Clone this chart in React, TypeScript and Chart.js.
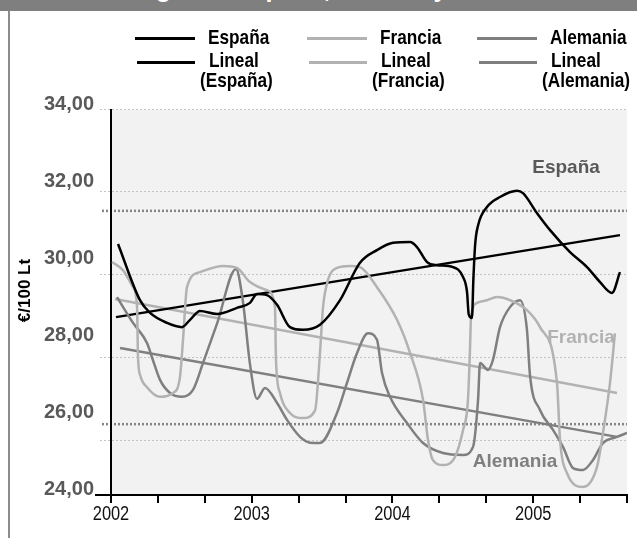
import React, { useEffect, useRef } from "react";
import { Chart, registerables } from "chart.js";

Chart.register(...registerables);

// ---------- text ----------
const TITLE = "Precio gasoil España, Francia y Alemania";
const Y_TITLE = "€/100 Lt";
const SERIES_NAMES = ["España", "Francia", "Alemania"];
const TREND_PREFIX = "Lineal";

// ---------- axes (x in months since Jan 2002) ----------
const X_MIN = 0;
const X_MAX = 44;
const X_TICK_MONTHS = [0, 4, 8, 12, 16, 20, 24, 28, 32, 36, 40, 44];
const YEAR_MONTHS = [0, 12, 24, 36];
const YEAR_LABELS = ["2002", "2003", "2004", "2005"];
const Y_TICKS = [24, 26, 28, 30, 32, 34];
const GUIDE_VALUES = [34.03, 31.9, 29.74, 27.58, 25.43];
const REF_VALUES = [31.38, 25.84];

// ---------- series: [month, €/100 Lt] ----------
const espana: [number, number][] = [
  [0.6, 30.52], [2.47, 29.06], [3.33, 28.73], [4.78, 28.47], [6.05, 28.36], [6.74, 28.55],
  [7.59, 28.78], [9.04, 28.7], [10.74, 28.86], [11.85, 28.99], [12.45, 29.22], [13.3, 29.19],
  [14.16, 28.94], [15.26, 28.36], [16.37, 28.29], [17.82, 28.42], [19.53, 29.06], [21.23, 30.03],
  [22.68, 30.36], [24.05, 30.55], [25.5, 30.57], [26.09, 30.44], [26.95, 30.05], [27.8, 29.97],
  [29.16, 29.92], [30.02, 29.66], [30.36, 29.27], [30.5, 28.7], [30.78, 28.6], [30.9, 29.6],
  [31.05, 30.5], [31.3, 31.0], [32.06, 31.48], [33.17, 31.74], [34.62, 31.9], [35.13, 31.84],
  [36.33, 31.32], [37.44, 30.88], [39.14, 30.31], [40.59, 29.92], [41.7, 29.53], [42.72, 29.25],
  [43.4, 29.79],
];
const francia: [number, number][] = [
  [0.09, 30.05], [1.02, 29.84], [1.88, 29.4], [2.22, 28.9], [2.3, 27.6], [2.5, 27.1],
  [3.07, 26.8], [4.18, 26.55], [5.29, 26.65], [5.88, 27.06], [6.14, 28.03], [6.48, 29.4],
  [7.59, 29.79], [9.55, 29.95], [10.74, 29.9], [11.85, 29.53], [13.3, 29.32], [13.98, 28.88],
  [14.07, 27.5], [14.41, 26.65], [15.26, 26.13], [16.37, 26.0], [17.4, 26.2], [17.82, 27.69],
  [18.08, 28.88], [18.5, 29.58], [19.27, 29.9], [20.38, 29.95], [21.23, 29.92], [22.68, 29.4],
  [24.39, 28.55], [25.5, 27.69], [26.61, 26.47], [27.03, 25.43], [27.46, 24.9], [28.31, 24.78],
  [29.16, 24.9], [30.02, 25.69], [30.44, 26.47], [30.61, 27.77], [30.7, 28.62], [31.21, 28.99],
  [32.06, 29.06], [32.92, 29.14], [34.02, 29.06], [35.47, 28.8], [36.58, 28.36], [38.03, 26.91],
  [38.29, 25.43], [38.88, 24.57], [40.25, 24.21], [41.44, 24.73], [41.95, 25.61], [42.55, 26.91],
  [42.97, 28.2],
];
const alemania: [number, number][] = [
  [0.51, 29.14], [1.88, 28.47], [3.07, 27.95], [3.58, 27.5], [4.18, 26.99], [5.03, 26.65],
  [6.05, 26.55], [6.99, 26.73], [7.85, 27.43], [9.04, 28.45], [10.66, 29.87], [11.26, 29.0],
  [11.85, 27.4], [12.45, 26.5], [13.13, 26.78], [14.16, 26.39], [15.01, 25.95], [16.12, 25.51],
  [16.97, 25.36], [17.82, 25.35], [19.27, 26.13], [20.12, 26.91], [20.98, 27.69], [21.92, 28.2],
  [22.68, 28.03], [23.11, 27.17], [23.79, 26.55], [25.24, 25.87], [26.61, 25.35], [28.31, 25.09],
  [30.02, 25.04], [30.87, 25.25], [31.3, 26.47], [31.47, 27.43], [32.15, 27.25], [32.57, 27.51],
  [33.17, 28.36], [34.02, 28.88], [34.88, 29.06], [35.47, 28.29], [35.73, 27.1], [36.58, 26.21],
  [37.69, 25.69], [38.54, 25.25], [39.4, 24.7], [40.25, 24.65], [41.1, 24.91], [41.95, 25.35],
  [43.15, 25.51], [44.0, 25.61],
];

// linear trend lines (start / end)
const espanaTrend: [number, number][] = [[0.43, 28.62], [43.4, 30.75]];
const franciaTrend: [number, number][] = [[0.34, 29.09], [43.15, 26.65]];
const alemaniaTrend: [number, number][] = [[0.77, 27.82], [43.15, 25.51]];

// in-chart name labels: [month, value]
const NAME_LABEL_POS: [number, number][] = [[38.8, 32.49], [40.08, 28.08], [34.45, 24.86]];

// ---------- styles ----------
const COLORS = ["#000000", "#b2b2b2", "#7f7f7f"];
const NAME_LABEL_COLORS = ["#595959", "#b2b2b2", "#7f7f7f"];
const SANS = "'Liberation Sans', Arial, sans-serif";
const NARROW_SCALE = 0.82;
const LEGEND_COLS = [135, 307, 477];

const toXY = (arr: [number, number][]) => arr.map(([x, y]) => ({ x, y }));

const decorPlugin = {
  id: "decor",
  beforeDraw(chart: any) {
    const { ctx, chartArea } = chart;
    const ys = chart.scales.y;
    ctx.save();
    ctx.fillStyle = "#f2f2f2";
    ctx.fillRect(chartArea.left, chartArea.top, chartArea.right - chartArea.left, chartArea.bottom - chartArea.top);
    ctx.strokeStyle = "#c4c4c4";
    ctx.lineWidth = 1;
    ctx.setLineDash([2, 2]);
    GUIDE_VALUES.forEach((v) => {
      const y = Math.round(ys.getPixelForValue(v)) + 0.5;
      ctx.beginPath();
      ctx.moveTo(chartArea.left - 11, y);
      ctx.lineTo(chartArea.right, y);
      ctx.stroke();
    });
    ctx.strokeStyle = "#858585";
    ctx.lineWidth = 2.5;
    ctx.setLineDash([2, 2]);
    REF_VALUES.forEach((v) => {
      const y = ys.getPixelForValue(v);
      ctx.beginPath();
      ctx.moveTo(chartArea.left - 9, y);
      ctx.lineTo(chartArea.right, y);
      ctx.stroke();
    });
    ctx.restore();
  },
  afterDraw(chart: any) {
    const { ctx, chartArea } = chart;
    const xs = chart.scales.x;
    const ys = chart.scales.y;
    ctx.save();
    ctx.font = `bold 19px ${SANS}`;
    ctx.textAlign = "center";
    ctx.textBaseline = "middle";
    SERIES_NAMES.forEach((name, i) => {
      const [mx, my] = NAME_LABEL_POS[i];
      ctx.fillStyle = NAME_LABEL_COLORS[i];
      ctx.fillText(name, xs.getPixelForValue(mx), ys.getPixelForValue(my));
    });
    // year labels under the x axis (narrow face)
    ctx.fillStyle = "#111";
    ctx.font = `20px ${SANS}`;
    ctx.textBaseline = "alphabetic";
    YEAR_MONTHS.forEach((m, i) => {
      const px = xs.getPixelForValue(m);
      ctx.save();
      ctx.translate(px, chartArea.bottom + 25);
      ctx.scale(NARROW_SCALE, 1);
      ctx.fillText(YEAR_LABELS[i], 0, 0);
      ctx.restore();
    });
    // y axis title
    ctx.translate(25, (chartArea.top + chartArea.bottom) / 2 - 12);
    ctx.rotate(-Math.PI / 2);
    ctx.fillStyle = "#000";
    ctx.textBaseline = "middle";
    ctx.font = `bold 17px ${SANS}`;
    ctx.fillText(Y_TITLE, 0, 0);
    ctx.restore();
  },
};

export default function App() {
  const canvasRef = useRef<HTMLCanvasElement | null>(null);

  useEffect(() => {
    if (!canvasRef.current) return;
    const seriesData = [espana, francia, alemania];
    const trendData = [espanaTrend, franciaTrend, alemaniaTrend];
    const datasets: any[] = [];
    SERIES_NAMES.forEach((name, i) => {
      datasets.push({
        label: name,
        data: toXY(seriesData[i]),
        borderColor: COLORS[i],
        borderWidth: 2.5,
        pointRadius: 0,
        cubicInterpolationMode: "monotone",
        fill: false,
      });
    });
    SERIES_NAMES.forEach((name, i) => {
      datasets.push({
        label: `${TREND_PREFIX} (${name})`,
        data: toXY(trendData[i]),
        borderColor: COLORS[i],
        borderWidth: 2.5,
        pointRadius: 0,
        tension: 0,
        fill: false,
      });
    });

    const chart = new Chart(canvasRef.current, {
      type: "line",
      data: { datasets },
      plugins: [decorPlugin],
      options: {
        animation: false,
        responsive: false,
        layout: { padding: { left: 0, right: 10, top: 110, bottom: 0 } },
        plugins: { legend: { display: false }, tooltip: { enabled: false } },
        scales: {
          x: {
            type: "linear",
            min: X_MIN,
            max: X_MAX,
            afterFit: (s: any) => { s.height = 43; },
            afterBuildTicks: (s: any) => { s.ticks = X_TICK_MONTHS.map((v) => ({ value: v })); },
            ticks: {
              autoSkip: false,
              maxRotation: 0,
              callback: () => "",
            },
            grid: { drawOnChartArea: false, drawTicks: true, tickLength: 8, lineWidth: 2, color: "#000" },
            border: { display: true, color: "#000", width: 2 },
          },
          y: {
            min: Y_TICKS[0],
            max: Y_TICKS[Y_TICKS.length - 1],
            afterFit: (s: any) => { s.width = 111; },
            afterBuildTicks: (s: any) => { s.ticks = Y_TICKS.map((v) => ({ value: v })); },
            ticks: {
              padding: 1,
              labelOffset: -6,
              color: "#595959",
              font: { family: SANS, size: 20, weight: "bold" },
              callback: (v: any) => Number(v).toFixed(2).replace(".", ","),
            },
            grid: {
              drawOnChartArea: false,
              drawTicks: true,
              tickLength: 16,
              lineWidth: 2,
              color: (c: any) => (c.tick && c.tick.value === Y_TICKS[0] ? "#000" : "rgba(0,0,0,0)"),
            },
            border: { display: true, color: "#000", width: 2 },
          },
        },
      },
    });
    return () => chart.destroy();
  }, []);

  const legendText: React.CSSProperties = {
    position: "absolute",
    font: `bold 21px ${SANS}`,
    lineHeight: "21px",
    color: "#000",
    whiteSpace: "nowrap",
    transform: `scaleX(${NARROW_SCALE})`,
    transformOrigin: "left top",
  };

  return (
    <div style={{ position: "fixed", left: 0, top: 0, width: 637, height: 538, background: "#fff", overflow: "hidden" }}>
      <canvas ref={canvasRef} width={637} height={538} style={{ position: "absolute", left: 0, top: 0 }} />
      <div style={{ position: "absolute", left: 0, top: 0, width: 637, height: 11, background: "#7f7f7f", overflow: "hidden" }}>
        <div style={{ position: "absolute", left: 0, top: -24, width: 637, textAlign: "center", font: `bold 25px ${SANS}`, lineHeight: "25px", color: "#fff", whiteSpace: "nowrap" }}>
          {TITLE}
        </div>
      </div>
      <div style={{ position: "absolute", left: 8, top: 11, width: 2, height: 527, background: "#8c8c8c" }} />
      {SERIES_NAMES.map((name, i) => (
        <React.Fragment key={name}>
          <div style={{ position: "absolute", left: LEGEND_COLS[i], top: 37, width: 60, height: 3.3, background: COLORS[i] }} />
          <div style={{ ...legendText, left: LEGEND_COLS[i] + 73, top: 25.5 }}>{name}</div>
          <div style={{ position: "absolute", left: LEGEND_COLS[i] + 2, top: 61, width: 58, height: 3.3, background: COLORS[i] }} />
          <div style={{ ...legendText, left: LEGEND_COLS[i] + 74, top: 49 }}>{TREND_PREFIX}</div>
          <div style={{ ...legendText, left: LEGEND_COLS[i] + 65, top: 69 }}>({name})</div>
        </React.Fragment>
      ))}
    </div>
  );
}
